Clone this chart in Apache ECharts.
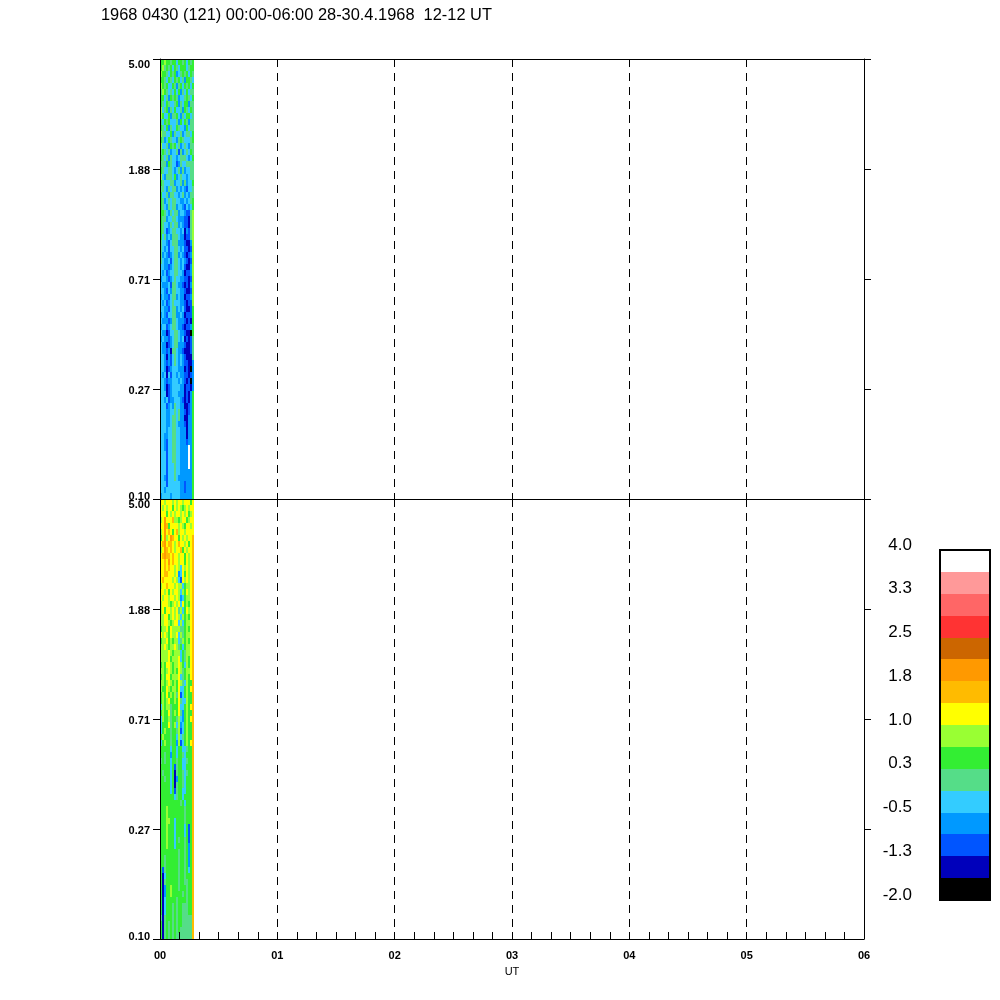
<!DOCTYPE html>
<html><head><meta charset="utf-8">
<style>html,body{margin:0;padding:0;background:#fff}#c{width:1000px;height:1000px}</style>
<script src="https://cdn.jsdelivr.net/npm/echarts@6/dist/echarts.min.js"></script>
</head><body><div id="c"></div>
<script>
const titleText = '1968 0430 (121) 00:00-06:00 28-30.4.1968  12-12 UT';
const freqLabels = ['0.10','0.27','0.71','1.88','5.00'];
const hourLabels = ['00','01','02','03','04','05','06'];
const bandColors = ['#000000','#0000bb','#0055ff','#0099ff','#33ccff','#55dd88','#33ee33','#99ff33','#ffff00','#ffbb00','#ff9900','#cc6600','#ff3333','#ff6666','#ff9999','#ffffff'];
const scaleMin = -2, scaleMax = 4;
const columnHours = 0.0171;
// one hex digit per cell = colour-scale level; rows top to bottom, columns about one minute each
const topRows = [
'66766566466564656','67565646546664566','76654656345656465','66546546564536654','76564465356465646',
'57654546463546455','66453656534456546','65465445635466355','74563546445365465','76446355643546645',
'54656444536465355','65463544654436455','75544635445345546','65346544356544456','74453656453454355',
'56545344525345465','65453544345554346','55536544235445555','65445543453534455','74355546345443455',
'65444553445353446','55435455343432445','64453554434534355','65345455443343456','65435455344324346',
'66543545534432257','65534455433322157','65443545534322157','65423455443413257','64534355543312257',
'54432455533321137','54342445543422127','53432345534321237','54334245543432127','44332345543421137',
'43423445544312237','34432345443322127','43334255433212137','44324355443321127','34332455343312237',
'43423454443321227','44332455343421126','34324455334312226','43332355433321216','34423455433212236',
'43312445543321106','34332345543412125','43312345533321125','43323155433211125','44313245434321115',
'44323245434322113','44312344433312103','43414244343322123','44323344434321203','44312344443312213',
'44412344433312136','44342334443212136','44423435443311236','44433445453321236','44433455453311336',
'44433455433321336','44434455443331336','44334455443331336','44324455443332336','44324455443333f36',
'44424455443333f36','44424455443333f36','44424445443333f36','44424445443333336','44324445433333336',
'44424444443323336','44344444443323336','34444344443333336'
];
const bottomRows = [
'88788878788788868','87878868787678788','88868787887878678','78a88897767886788','88a96888878768878',
'78a89868978878888','68a78a98868787889','89a89987898878689','78a98987889687889','89a99898878868789',
'8898a898878868789','88989887874878789','88998887834868789','89888878742878789','78898887877467789',
'88786878874768789','87887887873467789','78887678784867689','78688787857468789','77886787874767689',
'77887678847467789','67786877775567689','87876877847567789','67786767745767689','77876778756467789',
'77778767774657789','77778677784657689','67688767787647689','77678767687567789','67688677784567689',
'77678767687547669','76687677684467689','67686767582467669','67678667685447669','47677566684467689',
'67668567685367669','47667566574367689','46668567473467669','46766566572467669','67666566474567669',
'46766566372467689','66666466466445669','66566366466546669','56566466566445669','66666462566446669',
'65666461566545669','66566461366546669','66666461566546669','66666462566446669','66666664566466669',
'66666666665646669','66676666666656669','66676666666656669','66677664666656669','66676664666646269',
'66676664666646269','66676664656656269','66676664666656369','66666666656656369','66566666656656369',
'66566666656656369','62566666656656469','61466666656656669','61566666656655669','61366766656665669',
'61366766666565669','61466666566665669','61466656566555669','61466656566555669','51566656566555559',
'61565656566555559','61565656565555559','61565656555555559'
];
const bandStep = (scaleMax - scaleMin) / bandColors.length;

function cells(rows) {
  const out = [];
  rows.forEach((r, i) => {
    const yHi = 4 - 4 * i / rows.length, yLo = 4 - 4 * (i + 1) / rows.length;
    for (let c = 0; c < r.length; c++) {
      out.push([c * columnHours, (c + 1) * columnHours, yLo, yHi, scaleMin + (parseInt(r[c], 16) + 0.5) * bandStep]);
    }
  });
  return out;
}
function colorOf(v) {
  return bandColors[Math.max(0, Math.min(bandColors.length - 1, Math.floor((v - scaleMin) / bandStep)))];
}
function rectItem(params, api) {
  const a = api.coord([api.value(0), api.value(3)]);
  const b = api.coord([api.value(1), api.value(2)]);
  const x = Math.round(a[0]), y = Math.round(a[1]);
  return { type: 'rect', shape: { x, y, width: Math.round(b[0]) - x, height: Math.round(b[1]) - y },
           style: { fill: colorOf(api.value(4)) } };
}
const ink = '#000';
const font = 'Liberation Sans';
const tickLabel = { color: ink, fontFamily: font, fontSize: 11, fontWeight: 'bold' };
function freqAxis(idx, side, labels, tickValues) {
  return { gridIndex: idx, type: 'value', min: 0, max: 4, interval: 1, position: side,
    z: 10, splitLine: { show: false },
    axisLine: { show: true, onZero: false, lineStyle: { color: ink, width: 1 } },
    axisTick: Object.assign({ show: true, length: 7, lineStyle: { color: ink, width: 1 } }, tickValues ? { customValues: tickValues } : {}),
    axisLabel: labels ? { show: true, margin: 10, fontFamily: font, fontSize: 11, color: ink,
      formatter: v => '{' + (v === 4 ? 'high' : v === 0 ? 'low' : 'mid') + '|' + freqLabels[v] + '}',
      rich: {
        high: Object.assign({ padding: [12, 0, 0, 0] }, tickLabel),
        mid: Object.assign({ padding: [4, 0, 0, 0] }, tickLabel),
        low: Object.assign({ padding: [0, 0, 4, 0] }, tickLabel)
      } } : { show: false } };
}
function timeAxis(idx, isBottom) {
  return { gridIndex: idx, type: 'value', min: 0, max: 6, interval: 1, position: 'bottom', z: 10,
    axisLine: { show: true, onZero: false, lineStyle: { color: ink, width: 1 } },
    axisTick: { show: isBottom, inside: true, length: 7, lineStyle: { color: ink, width: 1 } },
    minorTick: { show: isBottom, splitNumber: 6, length: 7, lineStyle: { color: ink, width: 1 } },
    splitLine: { show: true, lineStyle: { color: ink, width: 1, type: [8, 6] } },
    name: isBottom ? 'UT' : '', nameLocation: 'middle', nameGap: 27,
    nameTextStyle: { color: ink, fontFamily: font, fontSize: 11 },
    axisLabel: isBottom ? Object.assign({ show: true, margin: 11, formatter: v => hourLabels[v] }, tickLabel) : { show: false } };
}
const barCells = bandColors.map((c, i) => [0, 1, scaleMin + i * bandStep, scaleMin + (i + 1) * bandStep, scaleMin + (i + 0.5) * bandStep]);
const barLabelStyle = { color: ink, fontFamily: font, fontSize: 17 };
const option = {
  animation: false,
  backgroundColor: '#fff',
  title: { text: titleText, left: 101, top: 7, padding: 0,
    textStyle: { color: ink, fontFamily: font, fontSize: 16.4, fontWeight: 'normal' } },
  grid: [
    { left: 160, top: 59, width: 704, height: 440 },
    { left: 160, top: 499, width: 704, height: 440 },
    { left: 940, top: 550, width: 50, height: 350 }
  ],
  xAxis: [ timeAxis(0, false), timeAxis(1, true),
    { gridIndex: 2, type: 'value', min: 0, max: 1, show: false },
    { gridIndex: 0, type: 'value', min: 0, max: 6, position: 'top', z: 10,
      axisLine: { show: true, onZero: false, lineStyle: { color: ink, width: 1 } },
      axisTick: { show: false }, axisLabel: { show: false }, splitLine: { show: false } } ],
  yAxis: [
    freqAxis(0, 'left', true), freqAxis(1, 'left', true),
    { gridIndex: 2, type: 'value', min: scaleMin, max: scaleMax, interval: 0.75,
      axisLine: { show: false }, axisTick: { show: false }, splitLine: { show: false },
      axisLabel: { margin: 28, fontFamily: font, fontSize: 17, color: ink,
        formatter: v => '{t|' + v.toFixed(1) + '}',
        rich: { t: Object.assign({ padding: [0, 0, 10, 0] }, barLabelStyle) } } },
    freqAxis(0, 'right', false),
    freqAxis(1, 'right', false, [1, 2, 3, 4])
  ],
  series: [
    { type: 'custom', xAxisIndex: 0, yAxisIndex: 0, renderItem: rectItem, data: cells(topRows), silent: true, clip: false },
    { type: 'custom', xAxisIndex: 1, yAxisIndex: 1, renderItem: rectItem, data: cells(bottomRows), silent: true, clip: false },
    { type: 'custom', xAxisIndex: 2, yAxisIndex: 2, renderItem: rectItem, data: barCells, silent: true, clip: false },
    { type: 'custom', xAxisIndex: 2, yAxisIndex: 2, z: 5, silent: true, clip: false, data: [[0, 1, scaleMin, scaleMax]],
      renderItem(params, api) {
        const a = api.coord([api.value(0), api.value(3)]), b = api.coord([api.value(1), api.value(2)]);
        return { type: 'rect', shape: { x: a[0], y: a[1], width: b[0] - a[0], height: b[1] - a[1] },
                 style: { fill: 'none', stroke: ink, lineWidth: 2 } };
      } }
  ]
};
echarts.init(document.getElementById('c')).setOption(option);
</script></body></html>
